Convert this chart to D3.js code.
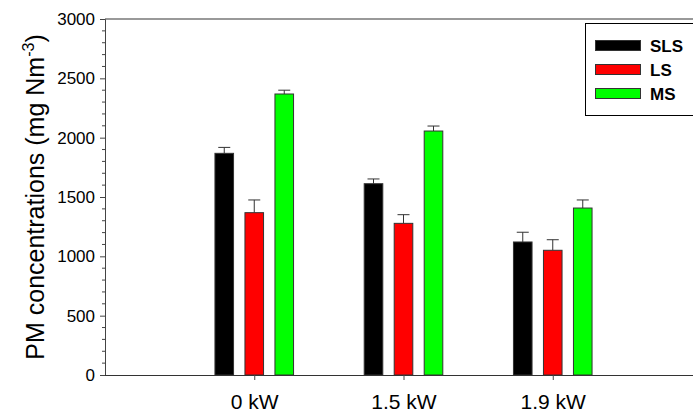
<!DOCTYPE html>
<html>
<head>
<meta charset="utf-8">
<script src="https://cdn.jsdelivr.net/npm/d3@7"></script>
<style>
  html, body { margin: 0; padding: 0; background: #fff; }
  svg { display: block; font-family: Arial, "Liberation Sans", sans-serif; }
</style>
</head>
<body>
<svg id="chart" width="693" height="412"></svg>
<script>
const categories = ["0 kW", "1.5 kW", "1.9 kW"];
const seriesNames = ["SLS", "LS", "MS"];
const seriesColors = ["#000000", "#ff0000", "#00ff00"];
const slsValues = [1868, 1612, 1121];
const slsErrors = [50, 40, 82];
const lsValues = [1368, 1278, 1051];
const lsErrors = [107, 73, 89];
const msValues = [2368, 2056, 1407];
const msErrors = [32, 42, 68];
const yTicks = [0, 500, 1000, 1500, 2000, 2500, 3000];

const values = [slsValues, lsValues, msValues];
const errors = [slsErrors, lsErrors, msErrors];

const svg = d3.select("#chart");
const pLeft = 105, pRight = 702, pTop = 19, pBottom = 375;

const y = d3.scaleLinear().domain([0, 3000]).range([pBottom, pTop]);
const x = d3.scalePoint().domain(categories).range([pLeft, pRight]).padding(1);
const xs = d3.scaleBand().domain(seriesNames).range([-45, 45]).paddingInner(0.38).paddingOuter(0.19);

const data = [];
seriesNames.forEach((s, si) => {
  categories.forEach((c, ci) => {
    data.push({ s, si, c, v: values[si][ci], e: errors[si][ci] });
  });
});

// top frame line
svg.append("line")
  .attr("x1", pLeft).attr("x2", 693).attr("y1", pTop).attr("y2", pTop)
  .attr("stroke", "#777").attr("stroke-width", 1.5);

// error bars
const eb = svg.append("g");
data.forEach(d => {
  const cx = x(d.c) + xs(d.s) + xs.bandwidth() / 2;
  eb.append("line").attr("x1", cx).attr("x2", cx)
    .attr("y1", y(d.v)).attr("y2", y(d.v + d.e))
    .attr("stroke", "#333").attr("stroke-width", 1);
  eb.append("line").attr("x1", cx - 6).attr("x2", cx + 6)
    .attr("y1", y(d.v + d.e)).attr("y2", y(d.v + d.e))
    .attr("stroke", "#333").attr("stroke-width", 1);
});

// bars
svg.append("g").selectAll("rect").data(data).join("rect")
  .attr("x", d => x(d.c) + xs(d.s))
  .attr("width", xs.bandwidth())
  .attr("y", d => y(d.v))
  .attr("height", d => y(0) - y(d.v))
  .attr("fill", d => seriesColors[d.si])
  .attr("stroke", "#333").attr("stroke-width", 1);

// y axis
const yAxis = svg.append("g").attr("transform", `translate(${pLeft},0)`)
  .call(d3.axisLeft(y).tickValues(yTicks).tickSize(5).tickPadding(5).tickFormat(d3.format("d")));
yAxis.select(".domain").attr("stroke", "#444");
yAxis.selectAll(".tick line").attr("stroke", "#444");
yAxis.selectAll("text").attr("font-size", 17).attr("fill", "#000");
// minor ticks
const minor = d3.range(0, 3001, 100).filter(v => v % 500 !== 0);
svg.append("g").selectAll("line").data(minor).join("line")
  .attr("x1", pLeft - 3).attr("x2", pLeft)
  .attr("y1", d => y(d)).attr("y2", d => y(d))
  .attr("stroke", "#444");

// x axis
const xAxis = svg.append("g").attr("transform", `translate(0,${pBottom})`)
  .call(d3.axisBottom(x).tickSize(5).tickPadding(14).tickSizeOuter(0));
xAxis.select(".domain").attr("stroke", "#333").attr("d", `M${pLeft},0.5H693`);
xAxis.selectAll(".tick line").attr("stroke", "#444");
xAxis.selectAll("text").attr("font-size", 21).attr("fill", "#000");

// y title
const title = svg.append("text")
  .attr("transform", `translate(44,${(pTop + pBottom) / 2}) rotate(-90)`)
  .attr("text-anchor", "middle").attr("font-size", 25).attr("fill", "#000");
title.append("tspan").text("PM concentrations (mg Nm");
title.append("tspan").attr("font-size", 16).attr("dy", -10).text("-3");
title.append("tspan").attr("dy", 10).text(")");

// legend
const lg = svg.append("g");
lg.append("rect").attr("x", 585.5).attr("y", 23.5).attr("width", 120).attr("height", 92)
  .attr("fill", "#fff").attr("stroke", "#000").attr("stroke-width", 1);
seriesNames.forEach((s, i) => {
  const yy = 40.5 + i * 24;
  lg.append("rect").attr("x", 595.5).attr("y", yy).attr("width", 45).attr("height", 10)
    .attr("fill", seriesColors[i]).attr("stroke", "#333").attr("stroke-width", 1);
  lg.append("text").attr("x", 650).attr("y", yy + 11).attr("font-size", 17)
    .attr("font-weight", "bold").attr("fill", "#000").text(s);
});
</script>
</body>
</html>
